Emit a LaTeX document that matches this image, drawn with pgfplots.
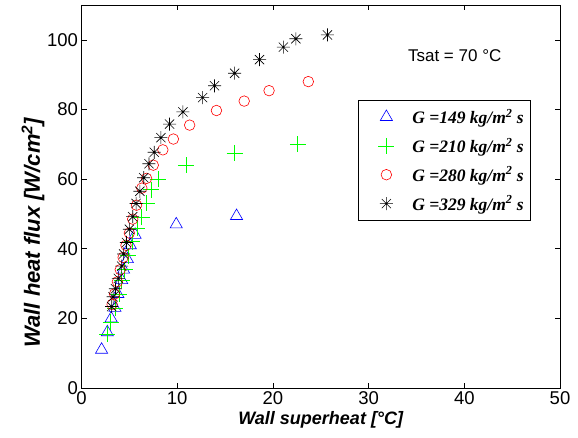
\documentclass[border=0pt]{standalone}
\usepackage{fontspec}
\setmainfont{Liberation Sans}
\newfontfamily\legfont{Liberation Serif}
\usepackage{pgfplots}
\pgfplotsset{compat=1.18}
\usetikzlibrary{calc}

% MATLAB style '*' marker: plus and cross on top of each other
\pgfdeclareplotmark{mstar}{%
  \pgfpathmoveto{\pgfqpoint{0pt}{\pgfplotmarksize}}%
  \pgfpathlineto{\pgfqpoint{0pt}{-\pgfplotmarksize}}%
  \pgfpathmoveto{\pgfqpoint{\pgfplotmarksize}{0pt}}%
  \pgfpathlineto{\pgfqpoint{-\pgfplotmarksize}{0pt}}%
  \pgfpathmoveto{\pgfqpoint{0.707\pgfplotmarksize}{0.707\pgfplotmarksize}}%
  \pgfpathlineto{\pgfqpoint{-0.707\pgfplotmarksize}{-0.707\pgfplotmarksize}}%
  \pgfpathmoveto{\pgfqpoint{-0.707\pgfplotmarksize}{0.707\pgfplotmarksize}}%
  \pgfpathlineto{\pgfqpoint{0.707\pgfplotmarksize}{-0.707\pgfplotmarksize}}%
  \pgfusepathqstroke}

\newcommand{\leg}[1]{{\legfont\bfseries\itshape G =#1 kg/m\textsuperscript{2} s}}

\begin{document}
\begin{tikzpicture}
\begin{axis}[
  scale only axis,
  width=478.5pt,
  height=383pt,
  xmin=0, xmax=50,
  ymin=0, ymax=110,
  xtick={0,10,...,50},
  ytick={0,20,...,100},
  tick align=inside,
  major tick length=5pt,
  axis line style={line width=0.8pt},
  tick style={black, line width=0.6pt},
  /pgf/number format/assume math mode=true,
  ticklabel style={font=\fontsize{18.5}{21}\selectfont},
  xlabel={\bfseries\itshape Wall superheat [°C]},
  ylabel={\bfseries\itshape Wall heat flux [W/cm\textsuperscript{2}]},
  xlabel style={font=\fontsize{18}{21}\selectfont},
  ylabel style={at={(rel axis cs:0,0.405)}, anchor=center, yshift=48.5pt,
    font=\fontsize{22}{25}\selectfont},
  legend style={at={(axis cs:28.9,82.8)}, anchor=north west,
    draw=black, line width=0.6pt, row sep=9pt, inner xsep=5pt, inner ysep=7pt,
    font=\fontsize{17.5}{21}\selectfont, legend cell align=left},
  legend image code/.code={\path[draw=none] (0pt,0pt) (47pt,0pt);
    \draw[#1] plot coordinates {(23pt,0pt)};},
]
\addplot[only marks, mark=triangle, mark size=7pt, blue, mark options={line width=0.6pt}] coordinates {
  (2.1,11) (2.7,16) (3.1,20) (3.5,23) (3.8,27) (4.2,31) (4.4,34)
  (4.8,37) (5.1,41) (5.6,44) (9.9,47) (16.2,49.4)
};
\addplot[only marks, mark=+, mark size=8pt, green, mark options={line width=0.6pt}] coordinates {
  (2.7,15.5) (3.05,19) (3.5,23) (3.9,27) (4.2,31) (4.5,34) (4.9,38)
  (5.3,42) (5.8,46) (6.3,49) (6.8,53) (7.3,57) (8.0,60) (10.9,64)
  (16.0,67.5) (22.6,70)
};
\addplot[only marks, mark=o, mark size=5.3pt, red, mark options={line width=0.6pt}] coordinates {
  (3.2,24) (3.45,27) (3.75,30.5) (4.05,34) (4.35,37.5) (4.65,41)
  (5.0,44.5) (5.35,48.5) (5.75,52.5) (6.3,57.4) (6.8,60.2) (7.5,64)
  (8.5,68.4) (9.6,71.5) (11.3,75.5) (14.1,79.7) (17.0,82.4) (19.6,85.4)
  (23.7,88)
};
\addplot[only marks, mark=mstar, mark size=6.5pt, black, mark options={line width=0.6pt}] coordinates {
  (3.15,23.4) (3.3,26.2) (3.55,28.5) (3.85,31.5) (4.2,35) (4.4,38.5)
  (4.7,41.8) (5.0,45.6) (5.35,49.2) (5.7,53) (6.1,56.5) (6.5,60.4)
  (7.05,64.4) (7.6,67.7) (8.3,71.9) (9.2,75.8) (10.6,79.3) (12.65,83.4)
  (13.9,86.8) (16.0,90.4) (18.6,94.3) (21.1,97.9) (22.4,100.3) (25.7,101.4)
};
\legend{\leg{149},\leg{210},\leg{280},\leg{329}}
\node[font=\fontsize{17}{20}\selectfont] at (axis cs:39,95.4) {Tsat = 70 °C};
\end{axis}
\pgfresetboundingbox
\path[use as bounding box] ($(current axis.south west)+(-81.5pt,-49pt)$) rectangle ($(current axis.north east)+(18pt,5pt)$);
\end{tikzpicture}
\end{document}
